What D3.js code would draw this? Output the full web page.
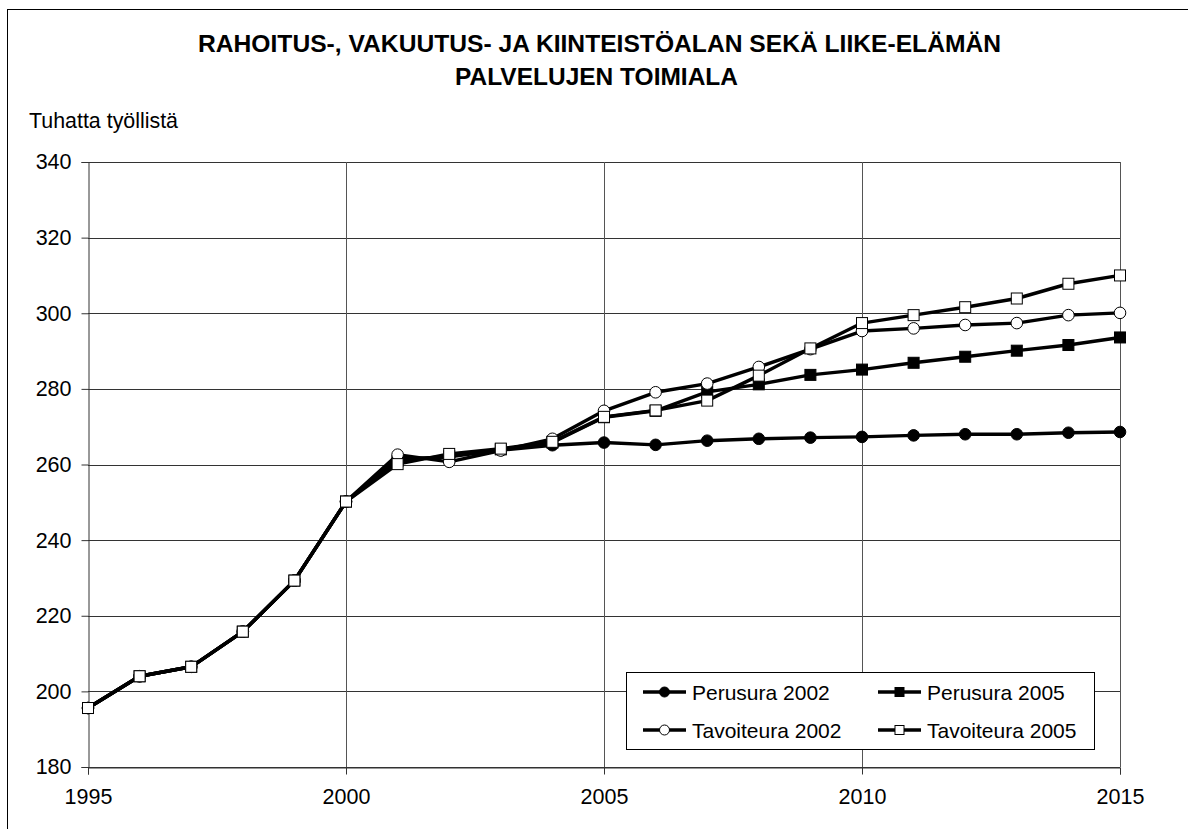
<!DOCTYPE html>
<html>
<head>
<meta charset="utf-8">
<script src="https://cdn.jsdelivr.net/npm/d3@7"></script>
<style>
  html, body { margin: 0; padding: 0; background: #fff; }
  svg { display: block; font-family: "Liberation Sans", Arial, sans-serif; }
</style>
</head>
<body>
<svg id="chart" width="1188" height="829"></svg>
<script>
// ---- data ----
const years = d3.range(1995, 2016);
const seriesNames = ["Perusura 2002", "Perusura 2005", "Tavoiteura 2002", "Tavoiteura 2005"];
const perusura2002 = [195.6, 204.0, 206.5, 215.8, 229.3, 250.2, 261.5, 262.0, 263.8, 265.1, 265.8, 265.2, 266.3, 266.8, 267.1, 267.3, 267.7, 268.0, 268.0, 268.4, 268.6];
const perusura2005 = [195.6, 204.0, 206.5, 215.8, 229.3, 250.2, 261.0, 262.2, 264.0, 265.8, 272.5, 274.2, 279.2, 281.2, 283.7, 285.1, 286.9, 288.5, 290.1, 291.6, 293.6];
const tavoiteura2002 = [195.6, 204.0, 206.5, 215.8, 229.3, 250.2, 262.6, 260.7, 263.7, 266.8, 274.2, 279.1, 281.4, 285.8, 290.5, 295.3, 296.0, 296.9, 297.4, 299.5, 300.1];
const tavoiteura2005 = [195.6, 204.0, 206.5, 215.8, 229.3, 250.2, 260.1, 262.8, 264.2, 266.0, 272.6, 274.3, 276.9, 283.5, 290.7, 297.4, 299.5, 301.6, 303.9, 307.8, 310.0];
const xTicks = [1995, 2000, 2005, 2010, 2015];
const yTicks = [180, 200, 220, 240, 260, 280, 300, 320, 340];
const titleLines = ["RAHOITUS-, VAKUUTUS- JA KIINTEISTÖALAN SEKÄ LIIKE-ELÄMÄN", "PALVELUJEN TOIMIALA"];
const yTitle = "Tuhatta työllistä";

// marker styles: shape + fill
const markerShapes = ["circle", "square", "circle", "square"];
const markerFills = ["#000", "#000", "#fff", "#fff"];
const seriesValues = [perusura2002, perusura2005, tavoiteura2002, tavoiteura2005];

const svg = d3.select("#chart");
const M = { left: 88, right: 1120, top: 162, bottom: 767 };

const x = d3.scaleLinear().domain([1995, 2015]).range([M.left, M.right]);
const y = d3.scaleLinear().domain([180, 340]).range([M.bottom, M.top]);

// outer frame (extends beyond view on right/bottom)
svg.append("rect").attr("x", 7.5).attr("y", 9.5).attr("width", 1200).attr("height", 900)
  .attr("fill", "none").attr("stroke", "#000").attr("stroke-width", 1);

// title
const titleGeom = [{ cx: 599.5, by: 52, len: 803 }, { cx: 596.5, by: 85, len: 283 }];
svg.append("g").selectAll("text").data(titleLines).join("text")
  .attr("x", (d, i) => titleGeom[i].cx).attr("y", (d, i) => titleGeom[i].by)
  .attr("text-anchor", "middle").attr("font-weight", "bold").attr("font-size", 23)
  .attr("textLength", (d, i) => titleGeom[i].len).attr("lengthAdjust", "spacingAndGlyphs")
  .text(d => d);

// y title
svg.append("text").attr("x", 29).attr("y", 128).attr("font-size", 21.4).text(yTitle);

// gridlines
svg.append("g").selectAll("line").data(yTicks).join("line")
  .attr("x1", M.left).attr("x2", M.right)
  .attr("y1", d => Math.round(y(d)) + 0.5).attr("y2", d => Math.round(y(d)) + 0.5)
  .attr("stroke", "#333").attr("stroke-width", 1);
svg.append("g").selectAll("line").data(xTicks.slice(1)).join("line")
  .attr("x1", d => Math.round(x(d)) + 0.5).attr("x2", d => Math.round(x(d)) + 0.5)
  .attr("y1", M.top).attr("y2", M.bottom)
  .attr("stroke", "#555").attr("stroke-width", 1);

// axes
const yAxis = d3.axisLeft(y).tickValues(yTicks).tickSize(7).tickPadding(10).tickFormat(d3.format("d"));
const gy = svg.append("g").attr("transform", `translate(${M.left + 0.5},0)`).call(yAxis);
const xAxis = d3.axisBottom(x).tickValues(xTicks).tickSize(7).tickPadding(14).tickFormat(d3.format("d"));
const gx = svg.append("g").attr("transform", `translate(0,${M.bottom + 0.5})`).call(xAxis);
[gx, gy].forEach(g => {
  g.select(".domain").attr("stroke", "#333");
  g.selectAll(".tick line").attr("stroke", "#333");
  g.selectAll("text").attr("font-size", 21.5).attr("fill", "#000")
    .attr("font-family", "'Liberation Sans', Arial, sans-serif");
});

// lines
const line = d3.line().x((d, i) => x(years[i])).y(d => y(d));
const drawMarker = (g, shape, fill, cx, cy, sq, r) => {
  if (shape === "circle") {
    g.append("circle").attr("cx", cx).attr("cy", cy).attr("r", r)
      .attr("fill", fill).attr("stroke", "#000").attr("stroke-width", 1);
  } else {
    g.append("rect").attr("x", cx - sq / 2).attr("y", cy - sq / 2).attr("width", sq).attr("height", sq)
      .attr("fill", fill).attr("stroke", "#000").attr("stroke-width", 1);
  }
};

seriesValues.forEach((vals, si) => {
  const g = svg.append("g");
  g.append("path").attr("d", line(vals)).attr("fill", "none")
    .attr("stroke", "#000").attr("stroke-width", 3.4).attr("stroke-linejoin", "round");
  vals.forEach((v, i) => drawMarker(g, markerShapes[si], markerFills[si], x(years[i]), y(v), 11, 5.8));
});

// legend
const lg = svg.append("g");
lg.append("rect").attr("x", 626.5).attr("y", 672.5).attr("width", 468).attr("height", 77)
  .attr("fill", "#fff").attr("stroke", "#000").attr("stroke-width", 1);
const legPos = [[643, 692], [878, 692], [643, 730], [878, 730]];
seriesNames.forEach((name, si) => {
  const [lx, ly] = legPos[si];
  lg.append("line").attr("x1", lx).attr("x2", lx + 43).attr("y1", ly).attr("y2", ly)
    .attr("stroke", "#000").attr("stroke-width", 3.4);
  drawMarker(lg, markerShapes[si], markerFills[si], lx + 21.5, ly, 9, 5);
  lg.append("text").attr("x", lx + 49).attr("y", ly + 7.5).attr("font-size", 21).text(name);
});
</script>
</body>
</html>
